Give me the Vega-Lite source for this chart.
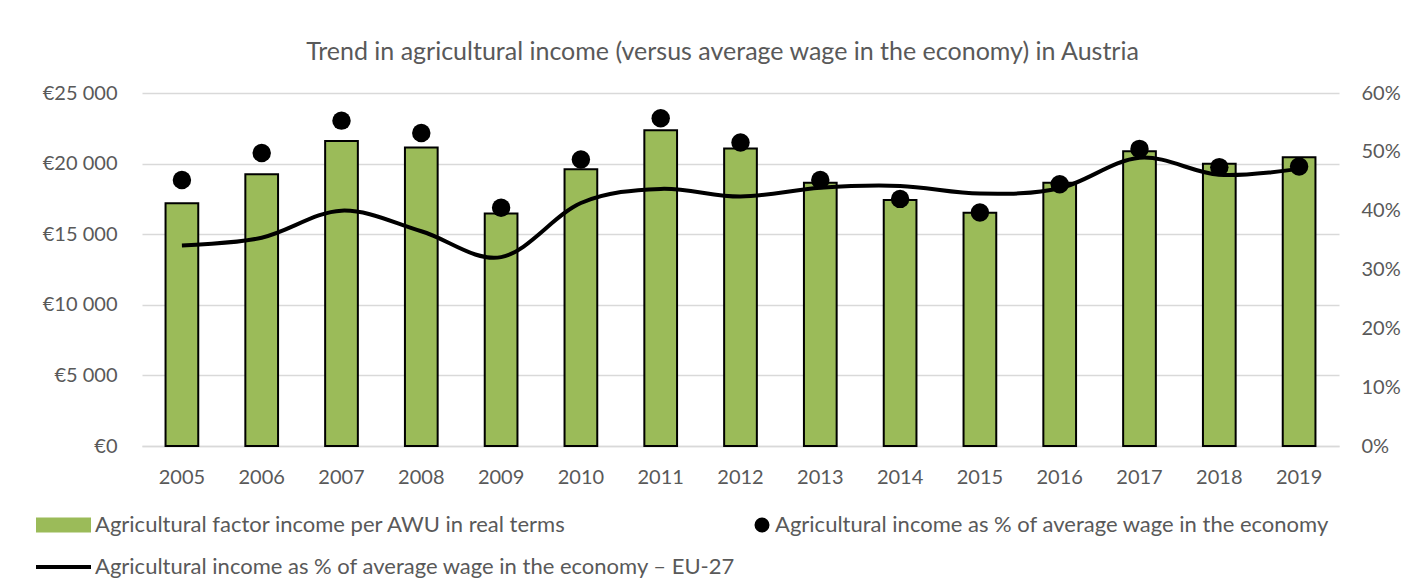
{
  "$schema": "https://vega.github.io/schema/vega-lite/v6.json",
  "autosize": "none",
  "width": 1197,
  "height": 353,
  "padding": {"left": 142, "top": 93, "right": 77, "bottom": 132},
  "background": "white",
  "title": {
    "text": "Trend in agricultural income (versus average wage in the economy) in Austria",
    "fontSize": 25,
    "fontWeight": "normal",
    "color": "#595959",
    "anchor": "middle",
    "offset": 18,
    "dx": -18
  },
  "config": {
    "font": "Lato",
    "view": {"stroke": null},
    "legend": {
      "title": null,
      "orient": "none",
      "direction": "horizontal",
      "legendX": -73,
      "legendY": 421,
      "columns": 2,
      "columnPadding": 13,
      "rowPadding": 20,
      "labelFontSize": 22,
      "labelColor": "#595959",
      "labelLimit": 800,
      "labelOffset": 4,
      "symbolSize": 400,
      "symbolType": {"expr": "datum.index === 0 ? 'M-4.3,-0.65H1V0.65H-4.3Z' : datum.index === 1 ? 'M-0.45,0A0.65,0.65 0 1,1 0.85,0A0.65,0.65 0 1,1 -0.45,0Z' : 'M-4.3,-0.1H1V0.1H-4.3Z'"},
      "symbolStrokeColor": "black",
      "symbolStrokeWidth": 2,
      "symbolOpacity": 1
    }
  },
  "data": {
    "values": [
      {"year": "2005", "income": 17190, "pct": 0.452, "eu": 0.341},
      {"year": "2006", "income": 19250, "pct": 0.498, "eu": 0.354},
      {"year": "2007", "income": 21600, "pct": 0.553, "eu": 0.400},
      {"year": "2008", "income": 21140, "pct": 0.532, "eu": 0.365},
      {"year": "2009", "income": 16470, "pct": 0.405, "eu": 0.321},
      {"year": "2010", "income": 19600, "pct": 0.487, "eu": 0.413},
      {"year": "2011", "income": 22360, "pct": 0.557, "eu": 0.437},
      {"year": "2012", "income": 21070, "pct": 0.516, "eu": 0.424},
      {"year": "2013", "income": 18650, "pct": 0.452, "eu": 0.439},
      {"year": "2014", "income": 17420, "pct": 0.420, "eu": 0.442},
      {"year": "2015", "income": 16520, "pct": 0.397, "eu": 0.429},
      {"year": "2016", "income": 18650, "pct": 0.445, "eu": 0.438},
      {"year": "2017", "income": 20880, "pct": 0.505, "eu": 0.490},
      {"year": "2018", "income": 19990, "pct": 0.474, "eu": 0.461},
      {"year": "2019", "income": 20450, "pct": 0.475, "eu": 0.471}
    ]
  },
  "encoding": {
    "x": {
      "field": "year",
      "type": "ordinal",
      "scale": {"paddingInner": 0.59, "paddingOuter": 0.295},
      "axis": {
        "title": null,
        "labelAngle": 0,
        "labelFontSize": 20,
        "labelColor": "#595959",
        "labelPadding": 21,
        "ticks": false,
        "domain": true,
        "domainColor": "#D9D9D9",
        "domainWidth": 1.5
      }
    }
  },
  "layer": [
    {
      "mark": {"type": "bar", "stroke": "black", "strokeWidth": 2},
      "encoding": {
        "y": {
          "field": "income",
          "type": "quantitative",
          "scale": {"domain": [0, 25000], "nice": false},
          "axis": {
            "title": null,
            "orient": "left",
            "values": [0, 5000, 10000, 15000, 20000, 25000],
            "labelExpr": "'€' + replace(format(datum.value, ','), ',', ' ')",
            "labelFontSize": 20,
            "labelColor": "#595959",
            "labelPadding": 25,
            "ticks": false,
            "domain": false,
            "grid": true,
            "gridColor": "#D9D9D9",
            "gridWidth": 1.5
          }
        },
        "color": {
          "datum": "Agricultural factor income per AWU in real terms",
          "type": "nominal",
          "scale": {
            "domain": [
              "Agricultural factor income per AWU in real terms",
              "Agricultural income as % of average wage in the economy",
              "Agricultural income as % of average wage in the economy – EU-27"
            ],
            "range": ["#9BBB59", "black", "black"]
          }
        }
      }
    },
    {
      "mark": {"type": "line", "interpolate": "cardinal", "strokeWidth": 4},
      "encoding": {
        "y": {
          "field": "eu",
          "type": "quantitative",
          "scale": {"domain": [0, 0.6], "nice": false},
          "axis": {
            "title": null,
            "orient": "right",
            "values": [0, 0.1, 0.2, 0.3, 0.4, 0.5, 0.6],
            "format": ".0%",
            "labelFontSize": 20,
            "labelColor": "#595959",
            "labelPadding": 22,
            "ticks": false,
            "domain": false,
            "grid": false
          }
        },
        "color": {"datum": "Agricultural income as % of average wage in the economy – EU-27", "type": "nominal"}
      }
    },
    {
      "mark": {"type": "circle", "size": 340, "opacity": 1},
      "encoding": {
        "y": {
          "field": "pct",
          "type": "quantitative",
          "scale": {"domain": [0, 0.6], "nice": false},
          "axis": null
        },
        "color": {"datum": "Agricultural income as % of average wage in the economy", "type": "nominal"}
      }
    }
  ],
  "resolve": {"scale": {"y": "independent"}}
}
